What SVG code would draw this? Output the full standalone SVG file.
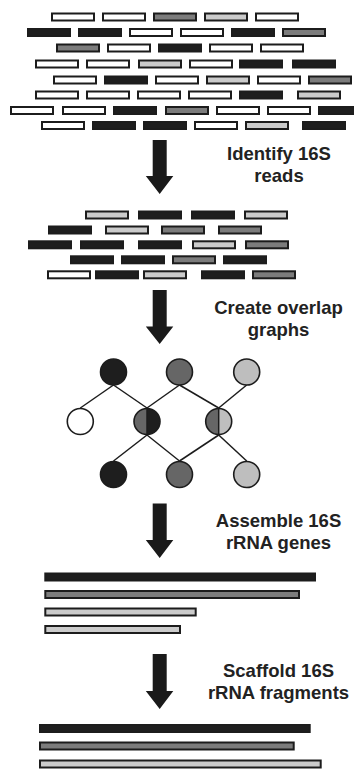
<svg xmlns="http://www.w3.org/2000/svg" width="354" height="769" viewBox="0 0 354 769">
<style>
.r{stroke:#1c1c1c;stroke-width:2}
.W{fill:#ffffff}.G{fill:#7c7c7c}.L{fill:#cbcbcb}.D{fill:#1e1e1e}
.c{stroke:#1c1c1c;stroke-width:1.6}
.e{stroke:#1c1c1c;stroke-width:1.5;fill:none}
.a{fill:#1a1a1a}
.t{font-family:"Liberation Sans",Arial,sans-serif;font-weight:bold;font-size:18.5px;fill:#222;text-anchor:middle}
</style>
<rect width="354" height="769" fill="#fff"/>
<g id="raw-reads">
<g transform="translate(0,13.5)">
<rect class="r W" x="52" y="0" width="42" height="7"/><rect class="r W" x="103" y="0" width="42" height="7"/><rect class="r G" x="154" y="0" width="42" height="7"/><rect class="r L" x="205" y="0" width="42" height="7"/><rect class="r W" x="256" y="0" width="42" height="7"/>
</g>
<g transform="translate(0,29)">
<rect class="r D" x="28" y="0" width="42" height="7"/><rect class="r D" x="79" y="0" width="42" height="7"/><rect class="r W" x="130" y="0" width="42" height="7"/><rect class="r W" x="181" y="0" width="42" height="7"/><rect class="r D" x="232" y="0" width="42" height="7"/><rect class="r G" x="283" y="0" width="42" height="7"/>
</g>
<g transform="translate(0,44.5)">
<rect class="r G" x="57" y="0" width="42" height="7"/><rect class="r W" x="108" y="0" width="42" height="7"/><rect class="r D" x="159" y="0" width="42" height="7"/><rect class="r W" x="210" y="0" width="42" height="7"/><rect class="r W" x="261" y="0" width="42" height="7"/>
</g>
<g transform="translate(0,60.5)">
<rect class="r W" x="36" y="0" width="42" height="7"/><rect class="r W" x="87" y="0" width="42" height="7"/><rect class="r L" x="139" y="0" width="42" height="7"/><rect class="r W" x="190" y="0" width="42" height="7"/><rect class="r D" x="240" y="0" width="42" height="7"/><rect class="r D" x="293" y="0" width="42" height="7"/>
</g>
<g transform="translate(0,76.5)">
<rect class="r W" x="54" y="0" width="42" height="7"/><rect class="r D" x="105" y="0" width="42" height="7"/><rect class="r W" x="156" y="0" width="42" height="7"/><rect class="r L" x="207" y="0" width="42" height="7"/><rect class="r W" x="258" y="0" width="42" height="7"/><rect class="r G" x="309" y="0" width="42" height="7"/>
</g>
<g transform="translate(0,91.5)">
<rect class="r W" x="36" y="0" width="42" height="7"/><rect class="r W" x="87" y="0" width="42" height="7"/><rect class="r W" x="138" y="0" width="42" height="7"/><rect class="r W" x="189" y="0" width="42" height="7"/><rect class="r D" x="240" y="0" width="42" height="7"/><rect class="r L" x="298" y="0" width="42" height="7"/>
</g>
<g transform="translate(0,107)">
<rect class="r W" x="11" y="0" width="42" height="7"/><rect class="r W" x="63" y="0" width="42" height="7"/><rect class="r D" x="114" y="0" width="42" height="7"/><rect class="r G" x="166" y="0" width="42" height="7"/><rect class="r W" x="217" y="0" width="42" height="7"/><rect class="r W" x="268" y="0" width="42" height="7"/><rect class="r D" x="319" y="0" width="42" height="7"/>
</g>
<g transform="translate(0,122)">
<rect class="r W" x="42" y="0" width="42" height="7"/><rect class="r D" x="93" y="0" width="42" height="7"/><rect class="r D" x="144" y="0" width="42" height="7"/><rect class="r W" x="195" y="0" width="42" height="7"/><rect class="r L" x="246" y="0" width="42" height="7"/><rect class="r D" x="303" y="0" width="42" height="7"/>
</g>
</g>
<g id="arrows">
<path class="a" d="M152.7,140H166.7V176H173.3L159.7,194L145.8,176H152.7Z"/>
<path class="a" d="M152.7,290H166.7V326.5H173.3L159.7,344L145.8,326.5H152.7Z"/>
<path class="a" d="M152.7,503.5H166.7V540H173.3L159.7,558L145.8,540H152.7Z"/>
<path class="a" d="M152.7,654H166.7V691H173.3L159.7,709L145.8,691H152.7Z"/>
</g>
<g id="step-labels">
<text class="t" x="279" y="159.5">Identify 16S</text>
<text class="t" x="279" y="182">reads</text>
<text class="t" x="278.5" y="314">Create overlap</text>
<text class="t" x="278.5" y="335.5">graphs</text>
<text class="t" x="278.5" y="526.5">Assemble 16S</text>
<text class="t" x="278.5" y="549">rRNA genes</text>
<text class="t" x="278.5" y="676.5">Scaffold 16S</text>
<text class="t" x="278.5" y="699">rRNA fragments</text>
</g>
<g id="16s-reads">
<g transform="translate(0,211.5)">
<rect class="r L" x="86" y="0" width="42" height="7"/><rect class="r D" x="139" y="0" width="42" height="7"/><rect class="r D" x="192" y="0" width="42" height="7"/><rect class="r L" x="245" y="0" width="42" height="7"/>
</g>
<g transform="translate(0,226.5)">
<rect class="r D" x="49" y="0" width="42" height="7"/><rect class="r L" x="106" y="0" width="42" height="7"/><rect class="r G" x="162" y="0" width="42" height="7"/><rect class="r G" x="219" y="0" width="42" height="7"/>
</g>
<g transform="translate(0,241.3)">
<rect class="r D" x="29" y="0" width="42" height="7"/><rect class="r D" x="81" y="0" width="42" height="7"/><rect class="r D" x="139" y="0" width="42" height="7"/><rect class="r L" x="193" y="0" width="42" height="7"/><rect class="r G" x="246" y="0" width="42" height="7"/>
</g>
<g transform="translate(0,256.3)">
<rect class="r D" x="71" y="0" width="42" height="7"/><rect class="r D" x="122" y="0" width="42" height="7"/><rect class="r G" x="173" y="0" width="42" height="7"/><rect class="r D" x="224" y="0" width="42" height="7"/>
</g>
<g transform="translate(0,271.3)">
<rect class="r W" x="48" y="0" width="42" height="7"/><rect class="r D" x="96" y="0" width="42" height="7"/><rect class="r L" x="144" y="0" width="42" height="7"/><rect class="r D" x="202" y="0" width="42" height="7"/><rect class="r G" x="253" y="0" width="42" height="7"/>
</g>
</g>
<g id="graph-edges">
<line class="e" x1="113.5" y1="385" x2="80.3" y2="408"/>
<line class="e" x1="113.5" y1="385" x2="147" y2="408"/>
<line class="e" x1="179.5" y1="385" x2="147" y2="408"/>
<line class="e" x1="179.5" y1="385" x2="218.7" y2="408"/>
<line class="e" x1="246.7" y1="385" x2="218.7" y2="408"/>
<line class="e" x1="147" y1="435" x2="113.5" y2="461"/>
<line class="e" x1="147" y1="435" x2="179.5" y2="461"/>
<line class="e" x1="218.7" y1="435" x2="179.5" y2="461"/>
<line class="e" x1="218.7" y1="435" x2="246.7" y2="461"/>
</g>
<g id="node-top-dark"><circle class="c D" cx="113.5" cy="372" r="13"/></g>
<g id="node-top-gray"><circle class="c" cx="179.5" cy="372" r="13" fill="#666"/></g>
<g id="node-top-light"><circle class="c" cx="246.7" cy="372" r="13" fill="#bebebe"/></g>
<g id="node-mid-white"><circle class="c W" cx="80.3" cy="421.5" r="13"/></g>
<g id="node-mid-half1">
<path d="M147,408.5A13,13 0 0 0 147,434.5Z" fill="#666"/>
<path d="M147,408.5A13,13 0 0 1 147,434.5Z" fill="#1e1e1e"/>
<circle class="c" cx="147" cy="421.5" r="13" fill="none"/>
<line class="e" x1="147" y1="408.5" x2="147" y2="434.5"/>
</g>
<g id="node-mid-half2">
<path d="M218.7,408.5A13,13 0 0 0 218.7,434.5Z" fill="#666"/>
<path d="M218.7,408.5A13,13 0 0 1 218.7,434.5Z" fill="#bebebe"/>
<circle class="c" cx="218.7" cy="421.5" r="13" fill="none"/>
<line class="e" x1="218.7" y1="408.5" x2="218.7" y2="434.5"/>
</g>
<g id="node-bot-dark"><circle class="c D" cx="113.5" cy="474.5" r="13"/></g>
<g id="node-bot-gray"><circle class="c" cx="179.5" cy="474.5" r="13" fill="#666"/></g>
<g id="node-bot-light"><circle class="c" cx="246.7" cy="474.5" r="13" fill="#bebebe"/></g>
<g id="assembled-genes">
<rect class="r D" x="45.3" y="573.5" width="269.7" height="7"/>
<rect class="r G" x="45.3" y="591" width="253.7" height="7"/>
<rect class="r L" x="45.3" y="608.5" width="150.4" height="7"/>
<rect class="r L" x="45.3" y="626" width="134.7" height="7"/>
</g>
<g id="scaffolded-fragments">
<rect class="r D" x="40" y="725" width="269.7" height="7"/>
<rect class="r G" x="40" y="742.5" width="253.7" height="7"/>
<rect class="r L" x="40" y="760.5" width="280.7" height="7"/>
</g>
</svg>
